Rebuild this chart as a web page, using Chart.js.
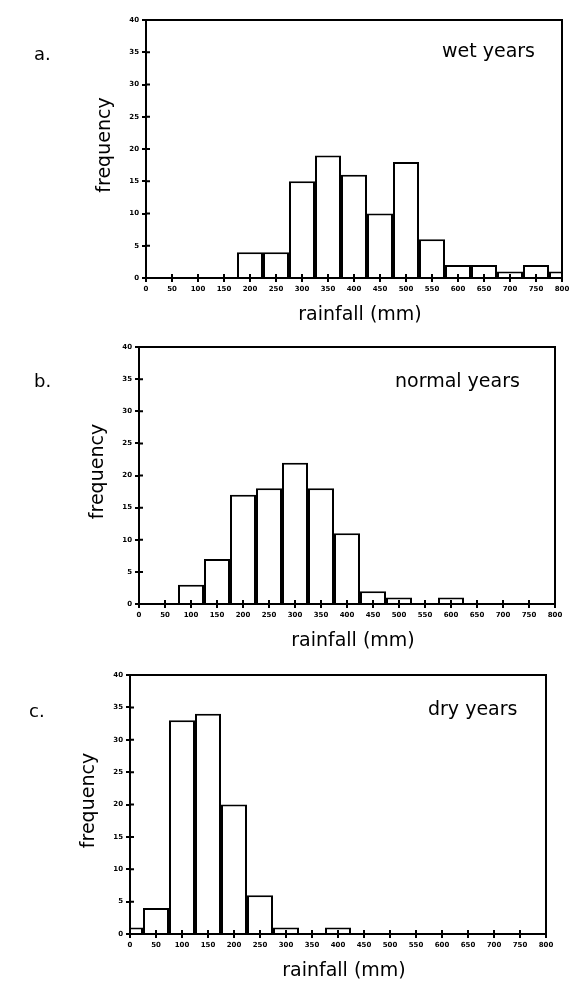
<!DOCTYPE html>
<html>
<head>
<meta charset="utf-8">
<script src="https://cdn.jsdelivr.net/npm/chart.js@4.4.0/dist/chart.umd.min.js"></script>
<style>
  body { margin: 0; background: #fff; }
  canvas { position: absolute; left: 0; }
</style>
</head>
<body>
<canvas id="wet"></canvas>
<canvas id="normal"></canvas>
<canvas id="dry"></canvas>
<script>
// bin centres (mm) - also the x tick labels
const rainfallBins = [0, 50, 100, 150, 200, 250, 300, 350, 400, 450, 500, 550, 600, 650, 700, 750, 800];
const frequencyTicks = [0, 5, 10, 15, 20, 25, 30, 35, 40];

// frequency (%) per bin
const wetYears    = [0, 0, 0, 0, 4, 4, 15, 19, 16, 10, 18, 6, 2, 2, 1, 2, 1];
const normalYears = [0, 0, 3, 7, 17, 18, 22, 18, 11, 2, 1, 0, 1, 0, 0, 0, 0];
const dryYears    = [1, 4, 33, 34, 20, 6, 1, 0, 1, 0, 0, 0, 0, 0, 0, 0, 0];

const FONT = '"DejaVu Sans", sans-serif';

// page layout of the three panels (plot width 416 = 26px per bin, keeps bar edges on whole pixels)
const panels = [
    { id: 'wet', top: 0, height: 330, values: wetYears,
      area: { left: 146, right: 562, top: 20, bottom: 278 },
      letter: 'a.', letterX: 42, letterY: 55, note: 'wet years', noteX: 442, noteY: 52 },
    { id: 'normal', top: 330, height: 330, values: normalYears,
      area: { left: 139, right: 555, top: 347, bottom: 604 },
      letter: 'b.', letterX: 42, letterY: 382, note: 'normal years', noteX: 395, noteY: 382 },
    { id: 'dry', top: 660, height: 328, values: dryYears,
      area: { left: 130, right: 546, top: 675, bottom: 934 },
      letter: 'c.', letterX: 37, letterY: 712, note: 'dry years', noteX: 428, noteY: 710 }
];

// frame, tick crosses and the text labels
const framePlugin = {
    id: 'frame',
    afterDraw(chart, args, opts) {
        const { ctx, chartArea: a, scales } = chart;
        ctx.save();
        ctx.strokeStyle = '#000';
        ctx.lineWidth = 2;
        ctx.strokeRect(a.left, a.top, a.right - a.left, a.bottom - a.top);

        ctx.beginPath();
        scales.x.ticks.forEach(t => {
            const x = scales.x.getPixelForValue(t.value);
            ctx.moveTo(x, a.bottom);
            ctx.lineTo(x, a.bottom - 4);
        });
        scales.y.ticks.forEach(t => {
            const y = scales.y.getPixelForValue(t.value);
            ctx.moveTo(a.left, y);
            ctx.lineTo(a.left + 4, y);
        });
        ctx.stroke();

        ctx.fillStyle = '#000';
        ctx.textBaseline = 'middle';
        ctx.font = '19px ' + FONT;
        ctx.textAlign = 'left';
        ctx.fillText(opts.note, opts.noteX, opts.noteY - opts.top);
        ctx.font = '18px ' + FONT;
        ctx.fillText(opts.letter, opts.letterX - 8, opts.letterY - opts.top);

        ctx.font = '19px ' + FONT;
        ctx.textAlign = 'center';
        ctx.fillText('rainfall (mm)', (a.left + a.right) / 2 + 6, a.bottom + 37);

        ctx.save();
        ctx.translate(a.left - 41, (a.top + a.bottom) / 2 - 4);
        ctx.rotate(-Math.PI / 2);
        ctx.fillText('frequency', 0, 0);
        ctx.restore();
        ctx.restore();
    }
};

panels.forEach(p => {
    const canvas = document.getElementById(p.id);
    canvas.width = 573;
    canvas.height = p.height;
    canvas.style.top = p.top + 'px';

    new Chart(canvas, {
        type: 'bar',
        data: {
            datasets: [{
                data: rainfallBins.map((b, i) => ({ x: b, y: p.values[i] })),
                backgroundColor: '#fff',
                borderColor: '#000',
                borderWidth: 2,
                barPercentage: 1,
                categoryPercentage: 1,
                inflateAmount: 0,
                clip: 0
            }]
        },
        options: {
            responsive: false,
            animation: false,
            layout: {
                padding: {
                    left: p.area.left - 20,
                    right: 573 - p.area.right,
                    top: p.area.top - p.top,
                    bottom: p.top + p.height - p.area.bottom - 20
                }
            },
            scales: {
                x: {
                    type: 'linear',
                    offset: false,
                    min: 0,
                    max: 800,
                    afterFit: s => { s.height = 20; },
                    afterBuildTicks: s => { s.ticks = rainfallBins.map(v => ({ value: v })); },
                    grid: { drawOnChartArea: false, offset: false, color: '#000', lineWidth: 2, tickLength: 4 },
                    border: { display: true, color: '#000', width: 2 },
                    ticks: { color: '#000', font: { family: FONT, size: 7, weight: 'bold' },
                             padding: 3, maxRotation: 0, autoSkip: false }
                },
                y: {
                    min: 0,
                    max: 40,
                    afterFit: s => { s.width = 20; },
                    afterBuildTicks: s => { s.ticks = frequencyTicks.map(v => ({ value: v })); },
                    grid: { drawOnChartArea: false, color: '#000', lineWidth: 2, tickLength: 4 },
                    border: { display: true, color: '#000', width: 2 },
                    ticks: { color: '#000', font: { family: FONT, size: 7, weight: 'bold' }, padding: 3 }
                }
            },
            plugins: {
                legend: { display: false },
                tooltip: { enabled: false },
                frame: {
                    top: p.top, note: p.note, noteX: p.noteX, noteY: p.noteY,
                    letter: p.letter, letterX: p.letterX, letterY: p.letterY
                }
            }
        },
        plugins: [framePlugin]
    });
});
</script>
</body>
</html>
